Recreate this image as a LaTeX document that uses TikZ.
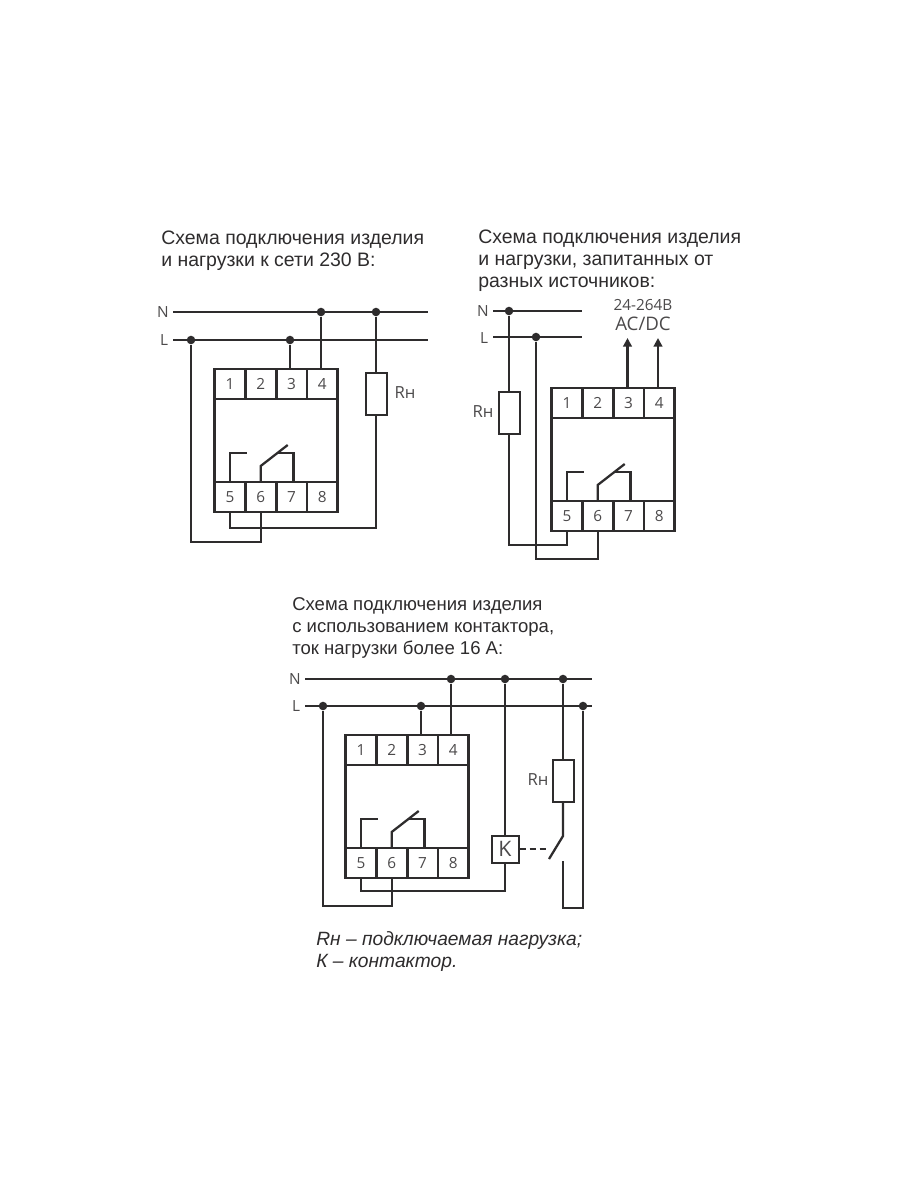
\documentclass[tikz,border=0pt]{standalone}
\usepackage{fontspec}
\setmainfont{Liberation Sans}
\newfontfamily\thinfont{Open Sans}
\usetikzlibrary{arrows.meta}
\definecolor{ink}{HTML}{2E2C2D}
\definecolor{soft}{HTML}{4C4A4B}
\tikzset{
  wire/.style={line width=1.7pt,draw=ink,line join=miter},
  term/.style={outer sep=0pt,minimum width=30.8*0.75pt,minimum height=30*0.75pt,inner sep=0pt,
    font=\thinfont\fontsize{11.5}{12}\selectfont,text=soft},
  frame/.style={draw=ink,line width=2.1pt},
  jdot/.style={circle,fill=ink,inner sep=0pt,minimum size=6.4pt},
  load/.style={rectangle,draw=ink,line width=1.5pt,fill=white,minimum width=21*0.75pt,minimum height=42*0.75pt,inner sep=0pt},
  coil/.style={rectangle,draw=ink,line width=1.5pt,fill=white,minimum width=27*0.75pt,minimum height=27*0.75pt,inner sep=0pt,
    font=\thinfont\fontsize{16}{16}\selectfont,text=soft},
  lbl/.style={font=\thinfont\fontsize{11.5}{12}\selectfont,text=soft,inner sep=0pt},
  rlbl/.style={font=\thinfont\fontsize{12.5}{13}\selectfont,text=soft,inner sep=0pt},
  heading/.style={font=\fontsize{14.6}{16.5}\selectfont,text=ink,align=left,anchor=north west,inner sep=0pt},
  headingb/.style={font=\fontsize{13.9}{16.5}\selectfont,text=ink,align=left,anchor=north west,inner sep=0pt},
  legend/.style={font=\itshape\fontsize{14.4}{16.5}\selectfont,text=ink,align=left,anchor=north west,inner sep=0pt},
  arrowwire/.style={wire,-{Triangle[length=6.5pt,width=6.5pt]}},
}
\newcommand{\relaybox}[3]{%
  \begin{scope}[shift={(#2,#3)}]
    \node[term] (#1-1) at (15.4,15) {1};
    \node[term] (#1-2) at (46.2,15) {2};
    \node[term] (#1-3) at (77,15) {3};
    \node[term] (#1-4) at (107.8,15) {4};
    \node[term] (#1-5) at (15.4,128) {5};
    \node[term] (#1-6) at (46.2,128) {6};
    \node[term] (#1-7) at (77,128) {7};
    \node[term] (#1-8) at (107.8,128) {8};
    \draw[frame] (#1-1.north west) rectangle (#1-8.south east);
    \draw[frame] (#1-1.south west) -- (#1-4.south east);
    \draw[frame] (#1-5.north west) -- (#1-8.north east);
    \draw[frame] (#1-1.north east) -- (#1-1.south east);
    \draw[frame] (#1-2.north east) -- (#1-2.south east);
    \draw[frame] (#1-3.north east) -- (#1-3.south east);
    \draw[frame] (#1-5.north east) -- (#1-5.south east);
    \draw[frame] (#1-6.north east) -- (#1-6.south east);
    \draw[frame] (#1-7.north east) -- (#1-7.south east);
    \draw[wire] (#1-5.north) -- ++(0,-29) -- ++(17,0);
    \draw[wire] (#1-6.north) -- ++(0,-16) -- ++(27,-21);
    \draw[wire] ([xshift=1.5pt]#1-7.north) -- ++(0,-29) -- ++(-16,0);
  \end{scope}}
\begin{document}
\begin{tikzpicture}[x=0.75pt,y=-0.75pt]
\useasboundingbox[fill=white] (0,0) rectangle (900,1200);

% --- first scheme
\node[heading] (h1) at (161,231) {Схема подключения изделия\\и нагрузки к сети 230 В:};
\node[lbl] (n1) at (163,312) {N};
\node[lbl] (l1) at (164,340) {L};
\coordinate (n1e) at (428,312);
\coordinate (l1e) at (428,340);
\draw[wire] (173,312) coordinate (n1w) -- (n1e);
\draw[wire] (173,340) coordinate (l1w) -- (l1e);
\node[jdot] (a-n1) at (321,312) {};
\node[jdot] (a-n2) at (376,312) {};
\node[jdot] (a-l1) at (191,340) {};
\node[jdot] (a-l2) at (290,340) {};
\relaybox{a}{214.5}{369}
\node[load] (a-r) at (376,393.5) {};
\node[rlbl] (a-rl) at (405,393) {Rн};
\draw[wire] (a-n1) -- (a-n1 |- a-4.north);
\draw[wire] (a-l2) -- (a-l2 |- a-3.north);
\draw[wire] (a-n2) -- (a-r.north);
\draw[wire] (a-5.south) |- (a-r.south |- 0,528) -- (a-r.south);
\draw[wire] (a-6.south) |- (a-l1 |- 0,542) -- (a-l1);

% --- second scheme
\node[heading] (h2) at (478,230) {Схема подключения изделия\\и нагрузки, запитанных от\\разных источников:};
\node[lbl] (n2) at (483,311) {N};
\node[lbl] (l2) at (484,338) {L};
\coordinate (n2e) at (582,311);
\coordinate (l2e) at (582,337);
\draw[wire] (493,311) coordinate (n2w) -- (n2e);
\draw[wire] (493,337) coordinate (l2w) -- (l2e);
\node[jdot] (b-n1) at (509,311) {};
\node[jdot] (b-l1) at (536,337) {};
\relaybox{b}{551.5}{388}
\node[load] (b-r) at (509,412.5) {};
\node[rlbl] (b-rl) at (483,412) {Rн};
\node[lbl] (b-v) at (643,305) {24-264В};
\node[lbl,font=\thinfont\fontsize{14}{14}\selectfont] (b-ac) at (643,324) {AC/DC};
\coordinate (b-t3) at (627.5,338);
\coordinate (b-t4) at (658,338);
\draw[arrowwire] (b-t3 |- b-3.north) -- (b-t3);
\draw[arrowwire] (b-t4 |- b-4.north) -- (b-t4);
\draw[wire] (b-n1) -- (b-r.north);
\draw[wire] (b-r.south) |- (b-5.south |- 0,545) -- (b-5.south);
\draw[wire] (b-l1) |- (b-6.south |- 0,559) -- (b-6.south);

% --- third scheme
\node[headingb] (h3) at (292,597) {Схема подключения изделия\\с использованием контактора,\\ток нагрузки более 16 А:};
\node[lbl] (n3) at (295,679) {N};
\node[lbl] (l3) at (296,706) {L};
\coordinate (n3e) at (592,679);
\coordinate (l3e) at (592,706);
\draw[wire] (305,679) coordinate (n3w) -- (n3e);
\draw[wire] (305,706) coordinate (l3w) -- (l3e);
\node[jdot] (c-n1) at (451,679) {};
\node[jdot] (c-n2) at (505,679) {};
\node[jdot] (c-n3) at (563,679) {};
\node[jdot] (c-l1) at (323,706) {};
\node[jdot] (c-l2) at (421,706) {};
\node[jdot] (c-l3) at (583,706) {};
\relaybox{c}{345.5}{735}
\node[load] (c-r) at (563,780.5) {};
\node[rlbl] (c-rl) at (538,780) {Rн};
\node[coil] (c-k) at (505,849) {K};
\coordinate (c-sw) at (549,859);
\coordinate (c-swtop) at (563,836);
\coordinate (c-low) at (563,861);
\coordinate (c-lowb) at (563,908);
\coordinate (c-dash) at (549,849);
\draw[wire] (c-n1) -- (c-n1 |- c-4.north);
\draw[wire] (c-l2) -- (c-l2 |- c-3.north);
\draw[wire] (c-n2) -- (c-k.north);
\draw[wire] (c-n3) -- (c-r.north);
\draw[wire] (c-r.south) -- (c-swtop) -- (c-sw);
\draw[wire] (c-low) -- (c-lowb) -| (c-l3);
\draw[wire,dash pattern=on 4.5pt off 3pt] (c-k.east) -- (c-dash);
\draw[wire] (c-5.south) |- (c-k.south |- 0,891) -- (c-k.south);
\draw[wire] (c-6.south) |- (c-l1 |- 0,906) -- (c-l1);

\node[legend] (lg) at (316,931) {Rн – подключаемая нагрузка;\\К – контактор.};
\end{tikzpicture}
\end{document}
